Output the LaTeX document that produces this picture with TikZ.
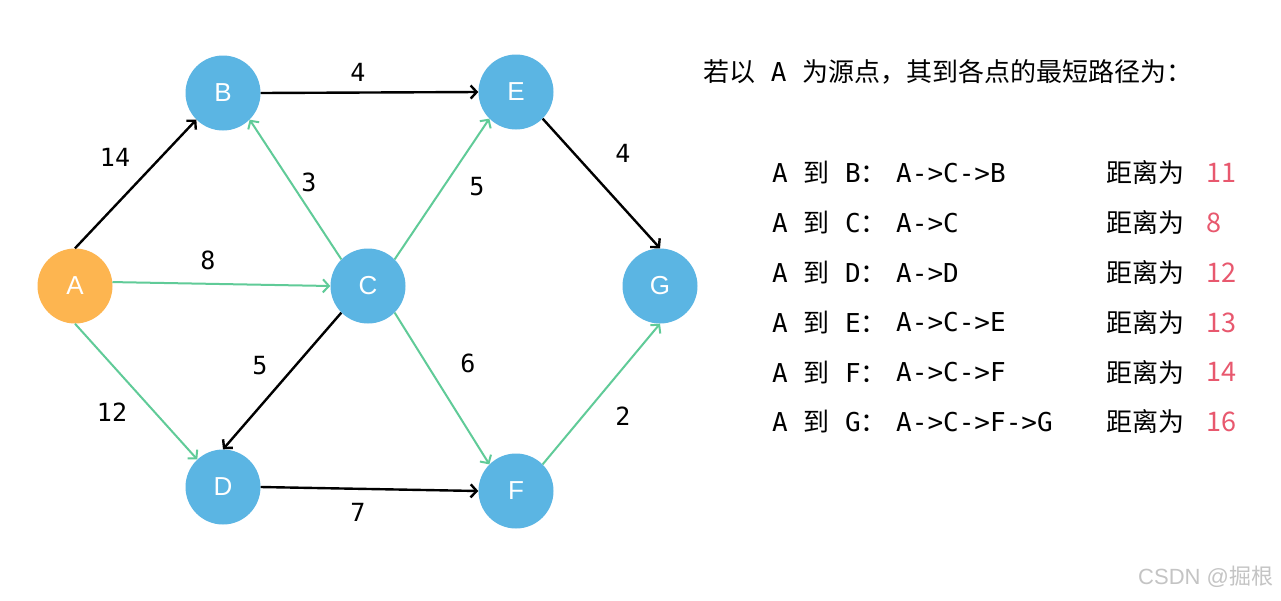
\documentclass[tikz,border=0pt]{standalone}
\usepackage{fontspec}
\usetikzlibrary{arrows.meta}
\newfontfamily\cjk{Noto Sans CJK SC}
\newfontfamily\monof{DejaVu Sans Mono}
\newfontfamily\labf{Liberation Sans}
\definecolor{nodeblue}{RGB}{91,181,227}
\definecolor{nodeorange}{RGB}{253,181,80}
\definecolor{edgegreen}{RGB}{96,203,152}
\definecolor{distred}{RGB}{232,88,110}
\definecolor{wmgray}{RGB}{196,196,196}
\begin{document}
\begin{tikzpicture}[x=1pt,y=-1pt,
  vertex/.style={circle,fill=nodeblue,minimum size=75pt,inner sep=0pt,text=white,font=\labf\fontsize{26}{30}\selectfont},
  source/.style={vertex,fill=nodeorange},
  blackedge/.style={line width=2.4pt,draw=black,-{Straight Barb[length=6pt,width=13pt]}},
  greenedge/.style={line width=2pt,draw=edgegreen,-{Straight Barb[length=6pt,width=13pt]}},
  weight/.style={font=\monof\fontsize{25}{30}\selectfont,inner sep=0pt},
  rowtext/.style={anchor=west,inner sep=0pt,font=\fontsize{26}{30}\selectfont},
  dist/.style={rowtext,text=distred,font=\fontsize{27}{30}\selectfont},
  watermark/.style={anchor=west,inner sep=0pt,text=wmgray,font=\labf\fontsize{22}{26}\selectfont},
]
\fill[white] (0,0) rectangle (1281,600);
\useasboundingbox (0,0) rectangle (1281,600);

% vertices
\node[source] (A) at (75,286) {A};
\node[vertex] (B) at (223,93) {B};
\node[vertex] (C) at (368,286) {C};
\node[vertex] (D) at (223,487) {D};
\node[vertex] (E) at (516,92) {E};
\node[vertex] (F) at (516,491) {F};
\node[vertex] (G) at (660,286) {G};

% edges
\draw[blackedge] (A.90) -- (B.225);
\draw[greenedge] (A.6) -- (C.180);
\draw[greenedge] (A.270) -- (D.133);
\draw[blackedge] (B.0) -- (E.180);
\draw[greenedge] (C.135) -- (B.-45);
\draw[greenedge] (C.45) -- (E.225);
\draw[blackedge] (C.225) -- (D.90);
\draw[greenedge] (C.-45) -- (F.135);
\draw[blackedge] (D.0) -- (F.180);
\draw[blackedge] (E.-45) -- (G.90);
\draw[greenedge] (F.45) -- (G.270);

% weights
\node[weight] (wAB) at (115,157) {14};
\node[weight] (wAC) at (208,260) {8};
\node[weight] (wAD) at (112,412) {12};
\node[weight] (wBE) at (358,72) {4};
\node[weight] (wCB) at (309,182) {3};
\node[weight] (wCE) at (477,187) {5};
\node[weight] (wCD) at (260,366) {5};
\node[weight] (wCF) at (468,363) {6};
\node[weight] (wDF) at (358,512) {7};
\node[weight] (wEG) at (623,153) {4};
\node[weight] (wFG) at (623,416) {2};

% title
\node[rowtext] (title) at (703,72) {{\cjk 若以}{\monof\ A\ }{\cjk 为源点，其到各点的最短路径为：}};

% rows
\foreach \i/\t/\p/\d in {0/B/A->C->B/11,1/C/A->C/8,2/D/A->D/12,3/E/A->C->E/13,4/F/A->C->F/14,5/G/A->C->F->G/16}{
  \node[rowtext] (from\i) at (772,173+49.8*\i) {{\monof A\ }{\cjk 到}{\monof\ \t}{\cjk ：}};
  \node[rowtext] (path\i) at (896,173+49.8*\i) {\monof \p};
  \node[rowtext] (dl\i) at (1106,173+49.8*\i) {\cjk 距离为};
  \node[dist] (dv\i) at (1206,173+49.8*\i) {\cjk \d};
}

% watermark
\node[watermark] (wm) at (1138,577) {CSDN @{\cjk 掘根}};
\end{tikzpicture}
\end{document}
